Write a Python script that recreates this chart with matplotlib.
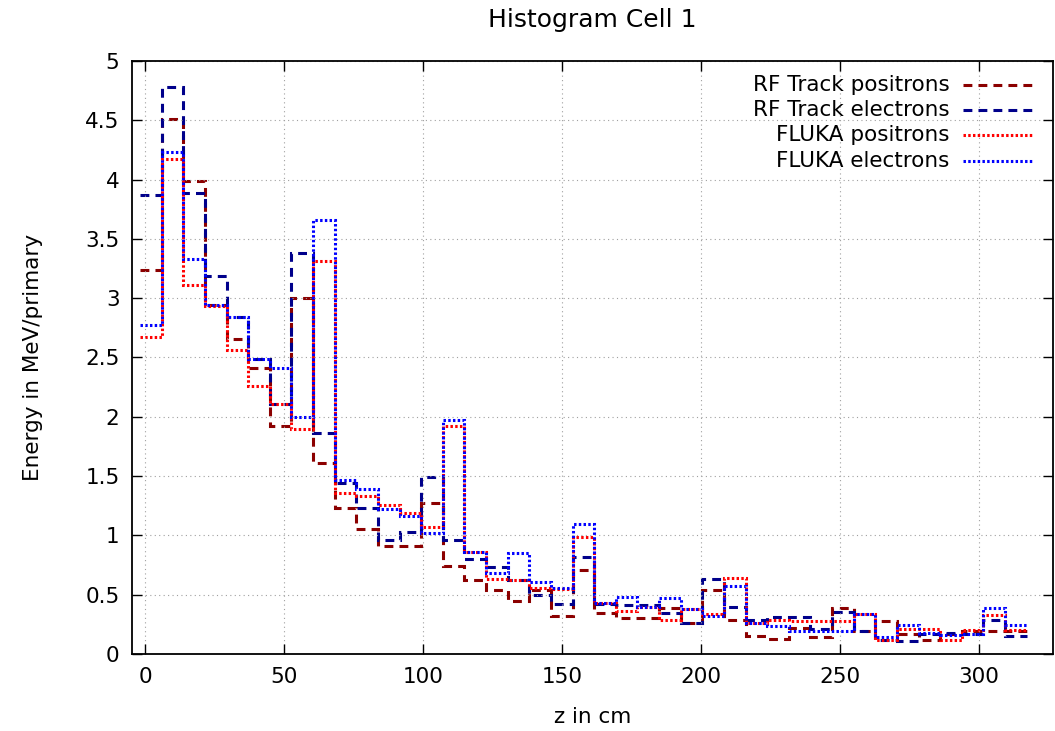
import numpy as np
import matplotlib
matplotlib.use("Agg")
import matplotlib.pyplot as plt

# bins along z (cm): histeps style, uniform width
z_start = -1.8
bin_width = 7.78

rf_positrons = [3.24, 4.51, 3.99, 2.94, 2.66, 2.41, 1.92, 3.00, 1.61, 1.23,
                1.05, 0.91, 0.91, 1.27, 0.74, 0.62, 0.54, 0.445, 0.54, 0.32,
                0.71, 0.35, 0.30, 0.30, 0.39, 0.26, 0.54, 0.285, 0.15, 0.13,
                0.22, 0.14, 0.39, 0.19, 0.28, 0.17, 0.115, 0.17, 0.19, 0.19,
                0.19]
rf_electrons = [3.87, 4.78, 3.89, 3.19, 2.84, 2.49, 2.11, 3.38, 1.86, 1.44,
                1.23, 0.96, 1.03, 1.49, 0.96, 0.80, 0.73, 0.62, 0.50, 0.42,
                0.82, 0.42, 0.41, 0.41, 0.35, 0.26, 0.63, 0.40, 0.29, 0.31,
                0.31, 0.21, 0.355, 0.19, 0.12, 0.11, 0.17, 0.18, 0.17, 0.285,
                0.15]
fluka_positrons = [2.67, 4.17, 3.11, 2.93, 2.56, 2.26, 2.11, 1.90, 3.31, 1.36,
                   1.33, 1.26, 1.19, 1.07, 1.92, 0.86, 0.63, 0.62, 0.56, 0.55,
                   0.985, 0.43, 0.36, 0.40, 0.29, 0.38, 0.34, 0.64, 0.26, 0.29,
                   0.28, 0.28, 0.28, 0.34, 0.12, 0.21, 0.21, 0.115, 0.20, 0.33,
                   0.20]
fluka_electrons = [2.77, 4.23, 3.33, 2.94, 2.84, 2.49, 2.41, 2.00, 3.66, 1.47,
                   1.39, 1.22, 1.16, 1.02, 1.97, 0.86, 0.68, 0.85, 0.61, 0.56,
                   1.10, 0.43, 0.48, 0.40, 0.475, 0.38, 0.32, 0.57, 0.26, 0.24,
                   0.19, 0.19, 0.19, 0.34, 0.14, 0.245, 0.18, 0.16, 0.17, 0.385,
                   0.245]

labels = ['RF Track positrons', 'RF Track electrons',
          'FLUKA positrons', 'FLUKA electrons']
colors = ['#8b0000', '#00008b', '#ff0000', '#0000ff']

edges = z_start + bin_width * np.arange(len(rf_positrons) + 1)

plt.rcParams['font.family'] = ['DejaVu Sans']
plt.rcParams['font.size'] = 15.5

fig = plt.figure(figsize=(10.55, 7.31), dpi=100)
ax = fig.add_axes([0.1251, 0.1053, 0.8729, 0.8113])

lw = 2.2
dashed = (0, (2.9, 2.0))
dotted = (0, (0.8, 0.75))
styles = [dashed, dashed, dotted, dotted]
series = [rf_positrons, rf_electrons, fluka_positrons, fluka_electrons]

for vals, c, ls in zip(series, colors, styles):
    ax.stairs(vals, edges, baseline=None, color=c, lw=lw, linestyle=ls)

ax.set_xlim(-4.7, 326.6)
ax.set_ylim(0, 5)
ax.set_xticks(np.arange(0, 301, 50))
ax.set_yticks(np.arange(0, 5.01, 0.5))
ax.set_yticklabels(['%g' % v for v in np.arange(0, 5.01, 0.5)])
ax.tick_params(direction='in', length=7, width=1, top=True, right=True, pad=9)
ax.grid(True, color='#a0a0a0', linestyle=(0, (1, 3)), lw=0.8)
for s in ax.spines.values():
    s.set_linewidth(1.3)

ax.set_xlabel('z in cm')
ax.xaxis.set_label_coords(0.5, -0.09)
ax.set_ylabel('Energy in MeV/primary')
ax.yaxis.set_label_coords(-0.097, 0.5)
ax.text(0.5, 1.069, 'Histogram Cell 1', transform=ax.transAxes,
        ha='center', va='center', fontsize=18)

# gnuplot-style key: right-aligned text, sample line to its right
for i, (lab, c, ls) in enumerate(zip(labels, colors, styles)):
    yk = 0.9595 - i * 0.0425
    ax.plot([0.902, 0.977], [yk, yk], transform=ax.transAxes, color=c,
            lw=lw, linestyle=ls, solid_capstyle='butt', dash_capstyle='butt')
    ax.text(0.888, yk, lab, transform=ax.transAxes, ha='right', va='center')

fig.savefig('out.png', dpi=100)
